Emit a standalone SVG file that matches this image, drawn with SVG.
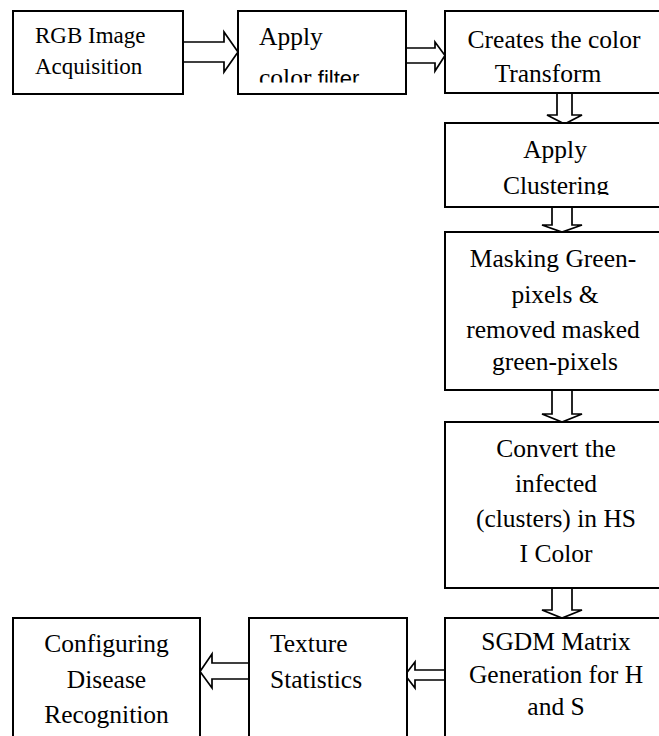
<svg xmlns="http://www.w3.org/2000/svg" width="659" height="736" viewBox="0 0 659 736">
<style>
.box{fill:#fff;stroke:#000;stroke-width:2}
.arr{fill:none;stroke:#000;stroke-width:1.7;stroke-linejoin:miter}
text{font-family:'Liberation Serif','DejaVu Serif',serif;font-size:25.5px;fill:#000}
.c{text-anchor:middle}
.s{font-family:'Liberation Sans','Open Sans',sans-serif;font-size:22px}
</style>
<defs>
<clipPath id="clip2"><rect x="238" y="11" width="168" height="71.5"/></clipPath>
<clipPath id="clip4"><rect x="445" y="123" width="214" height="72"/></clipPath>
</defs>
<rect width="659" height="736" fill="#fff"/>
<g id="connectors">
<path class="arr" d="M183,42 H224 V32 L238,52 L224,72 V62 H183"/>
<path class="arr" d="M406,48 H435 V42 L445,55.5 L435,71 V63 H406"/>
<path class="arr" d="M557,93 V115 H547 L564.5,124 L582,115 H572 V93"/>
<path class="arr" d="M552,207 V225 H542 L562,232 L582,225 H572 V207"/>
<path class="arr" d="M552,390 V414 H542 L562,422 L582,414 H572 V390"/>
<path class="arr" d="M552,588 V610 H542 L562,618 L582,610 H572 V588"/>
<path class="arr" d="M445,670 H415 V662 L405,675 L415,688 V680 H445"/>
<path class="arr" d="M249,663 H212 V654 L200,671.5 L212,688 V679 H249"/>
</g>
<g id="n1">
<rect class="box" x="13" y="11" width="170" height="83"/>
<text style="font-size:23px" x="35" y="43">RGB Image</text>
<text style="font-size:23px" x="35" y="74">Acquisition</text>
</g>
<g id="n2">
<rect class="box" x="238" y="11" width="168" height="83"/>
<g clip-path="url(#clip2)">
<text x="259" y="45">Apply</text>
<text x="259" y="86">color <tspan class="s">filter</tspan></text>
</g>
</g>
<g id="n3">
<rect class="box" x="445" y="11" width="216" height="82"/>
<text class="c" x="554" y="48">Creates the color</text>
<text class="c" x="548" y="82">Transform</text>
</g>
<g id="n4">
<rect class="box" x="445" y="123" width="216" height="84"/>
<g clip-path="url(#clip4)">
<text class="c" x="555" y="158">Apply</text>
<text class="c" x="556" y="194">Clustering</text>
</g>
</g>
<g id="n5">
<rect class="box" x="445" y="232" width="216" height="158"/>
<text class="c" x="553" y="267">Masking Green-</text>
<text class="c" x="555" y="303">pixels &amp;</text>
<text class="c" x="553" y="338">removed masked</text>
<text class="c" x="555" y="370">green-pixels</text>
</g>
<g id="n6">
<rect class="box" x="445" y="422" width="216" height="166"/>
<text class="c" x="556" y="457">Convert the</text>
<text class="c" x="556" y="492">infected</text>
<text class="c" x="556" y="527">(clusters) in HS</text>
<text class="c" x="556" y="562">I Color</text>
</g>
<g id="n7">
<rect class="box" x="445" y="618" width="216" height="130"/>
<text class="c" x="556" y="650">SGDM Matrix</text>
<text class="c" x="556" y="683">Generation for H</text>
<text class="c" x="556" y="715">and S</text>
</g>
<g id="n8">
<rect class="box" x="249" y="618" width="158" height="130"/>
<text x="270" y="652">Texture</text>
<text x="270" y="688">Statistics</text>
</g>
<g id="n9">
<rect class="box" x="13" y="618" width="187" height="130"/>
<text class="c" x="106.5" y="652">Configuring</text>
<text class="c" x="106.5" y="688">Disease</text>
<text class="c" x="106.5" y="723">Recognition</text>
</g>
</svg>
